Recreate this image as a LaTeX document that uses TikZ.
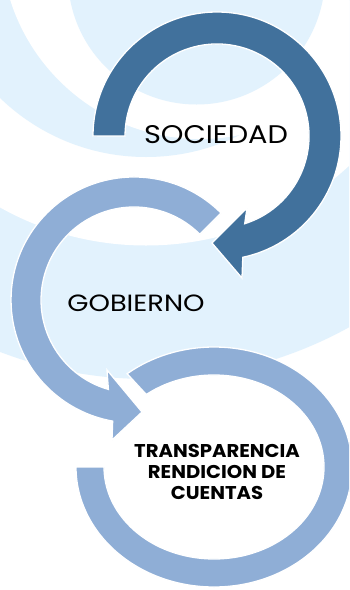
\documentclass[tikz,border=0pt]{standalone}
\usepackage{fontspec}
\newfontfamily\popfont{Poppins}
\definecolor{bgblue}{RGB}{226,242,253}
\definecolor{darkarrow}{RGB}{65,113,156}
\definecolor{lightarrow}{RGB}{143,174,214}
\begin{document}
\begin{tikzpicture}[x=1pt,y=-1pt,
  arrowshape/.style={draw=white, line width=1.3pt, line join=miter},
  lbl/.style={inner sep=0pt, text=black, font=\popfont},
  boldlbl/.style={inner sep=0pt, text=black, align=center, font=\popfont\bfseries\fontsize{18.5}{21}\selectfont}]
\useasboundingbox (0,0) rectangle (349,590);
\begin{scope}
\clip (0,0) rectangle (349,590);
\fill[white] (0,0) rectangle (349,590);
% background ripples
\fill[bgblue] (148,-37) circle[radius=416];
\fill[white] (146,-53) circle[radius=298.5];
\fill[bgblue] (146,-53) circle[radius=210];
\fill[white] (200,-60) circle[radius=199];
\fill[bgblue] (196.5,-24) circle[radius=128.5];
% dark arrow (SOCIEDAD)
\draw[arrowshape, fill=darkarrow] (93,136) arc[start angle=180, end angle=438, radius=124]
  -- (242,278) -- (212,243) -- (247,208) -- (244.7,223.7)
  arc[start angle=432.5, end angle=180, radius=92] -- cycle;
% light arrow (GOBIERNO)
\draw[arrowshape, fill=lightarrow] (221,213) arc[start angle=-45, end angle=-260, radius=123]
  -- (112,440) -- (142,412) -- (107,370) -- (108.4,389.4)
  arc[start angle=-254, end angle=-45, radius=93] -- cycle;
% bottom ring (TRANSPARENCIA)
\draw[arrowshape, fill=lightarrow] (76,467) arc[start angle=180, end angle=-129, x radius=138, y radius=120]
  -- (146.3,394.5)
  arc[start angle=-128, end angle=180, x radius=110, y radius=92] -- cycle;
\end{scope}
\node[lbl, xscale=1.13, font=\popfont\fontsize{25.5}{28}\selectfont] (soc) at (216,135) {SOCIEDAD};
\node[lbl, xscale=1.16, font=\popfont\fontsize{23.5}{26}\selectfont] (gob) at (136,303) {GOBIERNO};
\node[boldlbl, xscale=1.06] (trc) at (217,471.5) {TRANSPARENCIA\\RENDICION DE\\CUENTAS};
\end{tikzpicture}
\end{document}
